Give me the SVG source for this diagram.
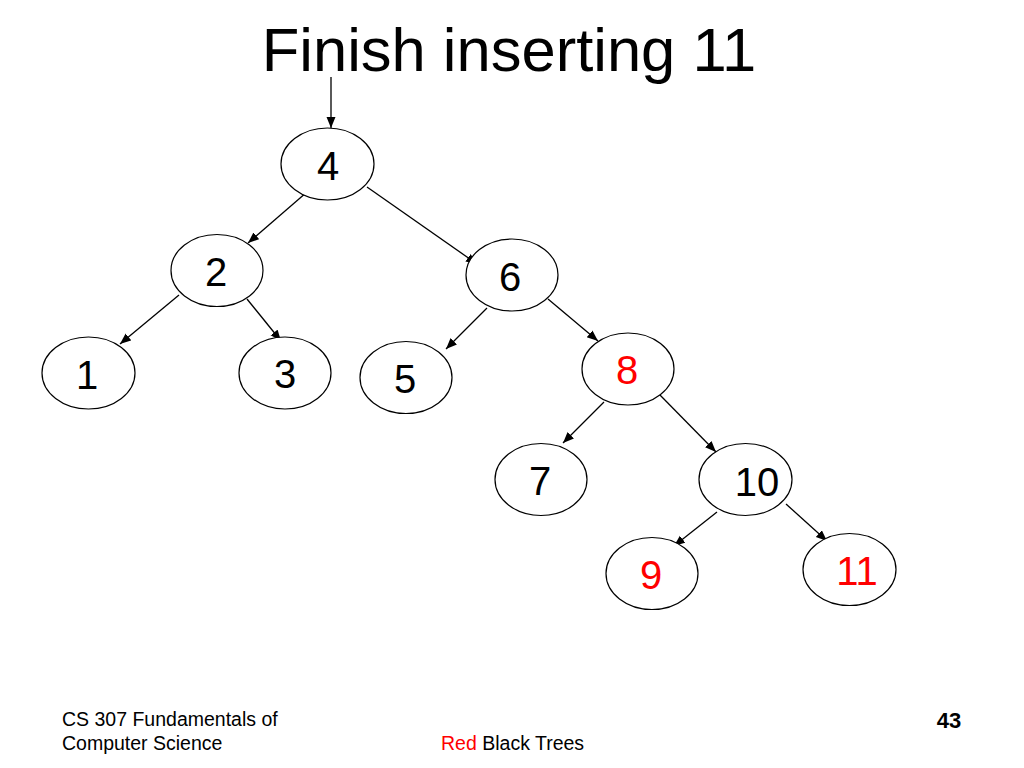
<svg xmlns="http://www.w3.org/2000/svg" width="1024" height="768" viewBox="0 0 1024 768">
<style>
.n ellipse{fill:#fff;stroke:#000;stroke-width:1.2}
.n text{font-family:"Liberation Sans",Arial,sans-serif;font-size:40px;text-anchor:middle;fill:#000}
.n text.r{fill:#f00}
.e line{stroke:#000;stroke-width:1.3;marker-end:url(#ah)}
.t{font-family:"Liberation Sans",Arial,sans-serif;fill:#000}
</style>
<defs>
<marker id="ah" markerUnits="userSpaceOnUse" markerWidth="12" markerHeight="10" refX="11" refY="4.5" orient="auto">
<path d="M0,0 L11,4.5 L0,9 z" fill="#000"/>
</marker>
</defs>
<rect width="1024" height="768" fill="#fff"/>
<text class="t" x="509" y="71" font-size="61.5" text-anchor="middle">Finish inserting 11</text>
<g class="e" id="connectors">
<line x1="331" y1="77" x2="331" y2="128"/>
<line x1="307" y1="192" x2="248" y2="243"/>
<line x1="367" y1="187" x2="477" y2="264"/>
<line x1="179" y1="295" x2="120" y2="344"/>
<line x1="247" y1="299" x2="281" y2="341"/>
<line x1="487" y1="308" x2="446" y2="349"/>
<line x1="548" y1="299" x2="598" y2="341"/>
<line x1="604" y1="402" x2="563" y2="443"/>
<line x1="658" y1="393" x2="716" y2="452"/>
<line x1="717" y1="512" x2="674" y2="546"/>
<line x1="786" y1="504" x2="827" y2="541"/>
</g>
<g class="n" id="n4"><ellipse cx="327.5" cy="164" rx="46.5" ry="36"/><text x="328" y="180">4</text></g>
<g class="n" id="n2"><ellipse cx="217" cy="270.5" rx="46" ry="36"/><text x="216" y="286">2</text></g>
<g class="n" id="n6"><ellipse cx="512" cy="275" rx="46" ry="36"/><text x="510" y="291">6</text></g>
<g class="n" id="n1"><ellipse cx="88.5" cy="373" rx="46.5" ry="36"/><text x="87" y="389">1</text></g>
<g class="n" id="n3"><ellipse cx="285" cy="373" rx="46" ry="36"/><text x="285" y="388">3</text></g>
<g class="n" id="n5"><ellipse cx="406" cy="377.5" rx="46" ry="36"/><text x="405" y="393">5</text></g>
<g class="n" id="n8"><ellipse cx="628" cy="369" rx="46" ry="36"/><text class="r" x="627" y="384">8</text></g>
<g class="n" id="n7"><ellipse cx="541" cy="479.5" rx="46" ry="36"/><text x="540" y="495">7</text></g>
<g class="n" id="n10"><ellipse cx="745.5" cy="479.5" rx="46.5" ry="36"/><text x="757" y="496">10</text></g>
<g class="n" id="n9"><ellipse cx="652" cy="573.5" rx="46" ry="36"/><text class="r" x="651" y="589">9</text></g>
<g class="n" id="n11"><ellipse cx="849.5" cy="569.5" rx="46.5" ry="36"/><text class="r" x="857" y="585">11</text></g>
<text class="t" x="62" y="726" font-size="19.5">CS 307 Fundamentals of</text>
<text class="t" x="62" y="750" font-size="19.5">Computer Science</text>
<text class="t" x="441" y="750" font-size="19.5"><tspan fill="#f00">Red</tspan> Black Trees</text>
<text class="t" x="949" y="728" font-size="22" font-weight="bold" text-anchor="middle">43</text>
</svg>
